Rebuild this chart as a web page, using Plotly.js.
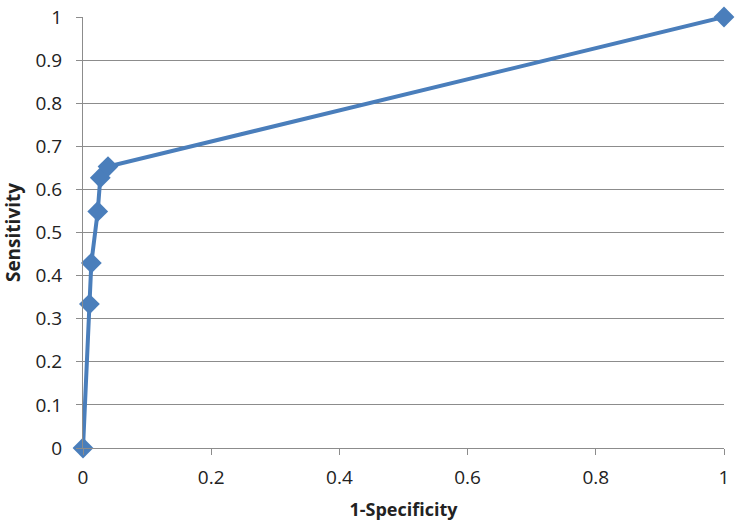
<!DOCTYPE html>
<html>
<head>
<meta charset="utf-8">
<script src="https://cdn.plot.ly/plotly-3.0.1.min.js"></script>
<style>
  body { margin: 0; background: #fff; }
  #chart { width: 741px; height: 530px; }
</style>
</head>
<body>
<div id="chart"></div>
<script>
// ROC curve points
const oneMinusSpecificity = [0, 0.010, 0.013, 0.023, 0.027, 0.039, 1];
const sensitivity = [0, 0.334, 0.429, 0.549, 0.627, 0.653, 1];

const xTicks = [0, 0.2, 0.4, 0.6, 0.8, 1];
const yTicks = [0, 0.1, 0.2, 0.3, 0.4, 0.5, 0.6, 0.7, 0.8, 0.9, 1];

const blue = '#4A7EBB';

const trace = {
    x: oneMinusSpecificity,
    y: sensitivity,
    type: 'scatter',
    mode: 'lines+markers',
    line: { color: blue, width: 4 },
    marker: { symbol: 'diamond', size: 16, color: blue },
    cliponaxis: false,
    hoverinfo: 'x+y'
};

const layout = {
    width: 741,
    height: 530,
    margin: { l: 83, r: 17, t: 17, b: 82 },
    paper_bgcolor: '#fff',
    plot_bgcolor: '#fff',
    showlegend: false,
    font: { family: 'Open Sans, Liberation Sans, sans-serif', size: 19, color: '#222' },
    xaxis: {
        range: [0, 1],
        tickvals: xTicks,
        ticktext: xTicks.map(String),
        showgrid: false,
        zeroline: false,
        showline: true,
        linecolor: '#8c8c8c',
        linewidth: 1,
        ticks: 'outside',
        ticklen: 6,
        tickcolor: '#8c8c8c',
        ticklabelstandoff: 6,
        title: { text: '<b>1-Specificity</b>', font: { size: 18 }, standoff: 14 }
    },
    yaxis: {
        range: [0, 1],
        tickvals: yTicks,
        ticktext: yTicks.map(String),
        showgrid: true,
        gridcolor: '#8c8c8c',
        gridwidth: 1,
        zeroline: false,
        showline: true,
        linecolor: '#8c8c8c',
        linewidth: 1,
        ticks: 'outside',
        ticklen: 6,
        tickcolor: '#8c8c8c',
        ticklabelstandoff: 10,
        title: { text: '<b>Sensitivity</b>', font: { size: 19 }, standoff: 12 }
    }
};

Plotly.newPlot('chart', [trace], layout, { displayModeBar: false, staticPlot: true });
</script>
</body>
</html>
